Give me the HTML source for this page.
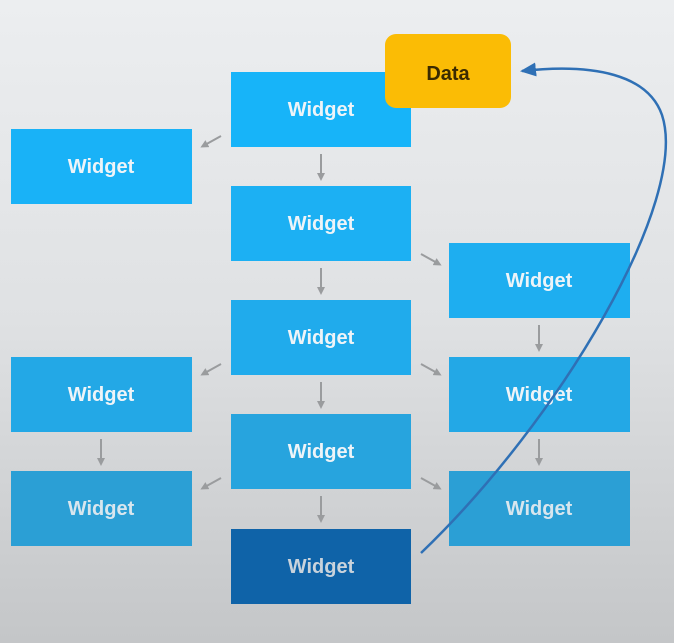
<!DOCTYPE html>
<html><head><style>
body{margin:0;width:674px;height:643px;overflow:hidden;background:linear-gradient(#eceef0,#dfe1e3 50%,#c4c6c8);}
svg{position:absolute;left:0;top:0}
text{font-family:"Liberation Sans",sans-serif;font-weight:bold;font-size:20px;text-anchor:middle}
</style></head><body>
<svg width="674" height="643" viewBox="0 0 674 643">
<defs>
<marker id="g" markerWidth="8" markerHeight="8" refX="5" refY="4" orient="auto" markerUnits="userSpaceOnUse"><path d="M0,0 L8,4 L0,8 Z" fill="#9a9c9e"/></marker>
<marker id="b" markerWidth="16" markerHeight="14" refX="14" refY="7" orient="auto" markerUnits="userSpaceOnUse"><path d="M0,0 L16,7 L0,14 Z" fill="#2f70b5"/></marker>
</defs>
<g fill="#fff">
<rect x="231" y="72" width="180" height="75" fill="#17b4f9"/>
<rect x="11" y="129" width="181" height="75" fill="#19b2f7"/>
<rect x="231" y="186" width="180" height="75" fill="#1cb0f3"/>
<rect x="449" y="243" width="181" height="75" fill="#1eaef0"/>
<rect x="231" y="300" width="180" height="75" fill="#20abec"/>
<rect x="11" y="357" width="181" height="75" fill="#23a8e6"/>
<rect x="449" y="357" width="181" height="75" fill="#23a8e6"/>
<rect x="231" y="414" width="180" height="75" fill="#27a4de"/>
<rect x="11" y="471" width="181" height="75" fill="#2b9fd5"/>
<rect x="449" y="471" width="181" height="75" fill="#2b9fd5"/>
<rect x="231" y="529" width="180" height="75" fill="#0f63a8"/>
</g>
<g fill="#eef4f8">
<text x="321" y="116">Widget</text>
<text x="101" y="173">Widget</text>
<text x="321" y="230">Widget</text>
<text x="539" y="287">Widget</text>
<text x="321" y="344">Widget</text>
<text x="101" y="401">Widget</text>
<text x="539" y="401">Widget</text>
<text x="321" y="458">Widget</text>
<text x="101" y="515" fill="#d8e6ee">Widget</text>
<text x="539" y="515" fill="#d8e6ee">Widget</text>
<text x="321" y="573" fill="#c9d3dc">Widget</text>
</g>
<g stroke="#9a9c9e" stroke-width="2" marker-end="url(#g)">
<line x1="321" y1="154" x2="321" y2="178"/>
<line x1="321" y1="268" x2="321" y2="292"/>
<line x1="321" y1="382" x2="321" y2="406"/>
<line x1="321" y1="496" x2="321" y2="520"/>
<line x1="539" y1="325" x2="539" y2="349"/>
<line x1="539" y1="439" x2="539" y2="463"/>
<line x1="101" y1="439" x2="101" y2="463"/>
<line x1="221" y1="136" x2="203" y2="146"/>
<line x1="221" y1="364" x2="203" y2="374"/>
<line x1="221" y1="478" x2="203" y2="488"/>
<line x1="421" y1="254" x2="439" y2="264"/>
<line x1="421" y1="364" x2="439" y2="374"/>
<line x1="421" y1="478" x2="439" y2="488"/>
</g>
<rect x="385" y="34" width="126" height="74" rx="11" fill="#fbbc05"/>
<text x="448" y="80" fill="#3a2a00" font-size="19">Data</text>
<path d="M421,553 C560,420 690,200 662,115 C648,75 595,63 522,71" fill="none" stroke="#2f70b5" stroke-width="2.5" marker-end="url(#b)"/>
</svg>
</body></html>
